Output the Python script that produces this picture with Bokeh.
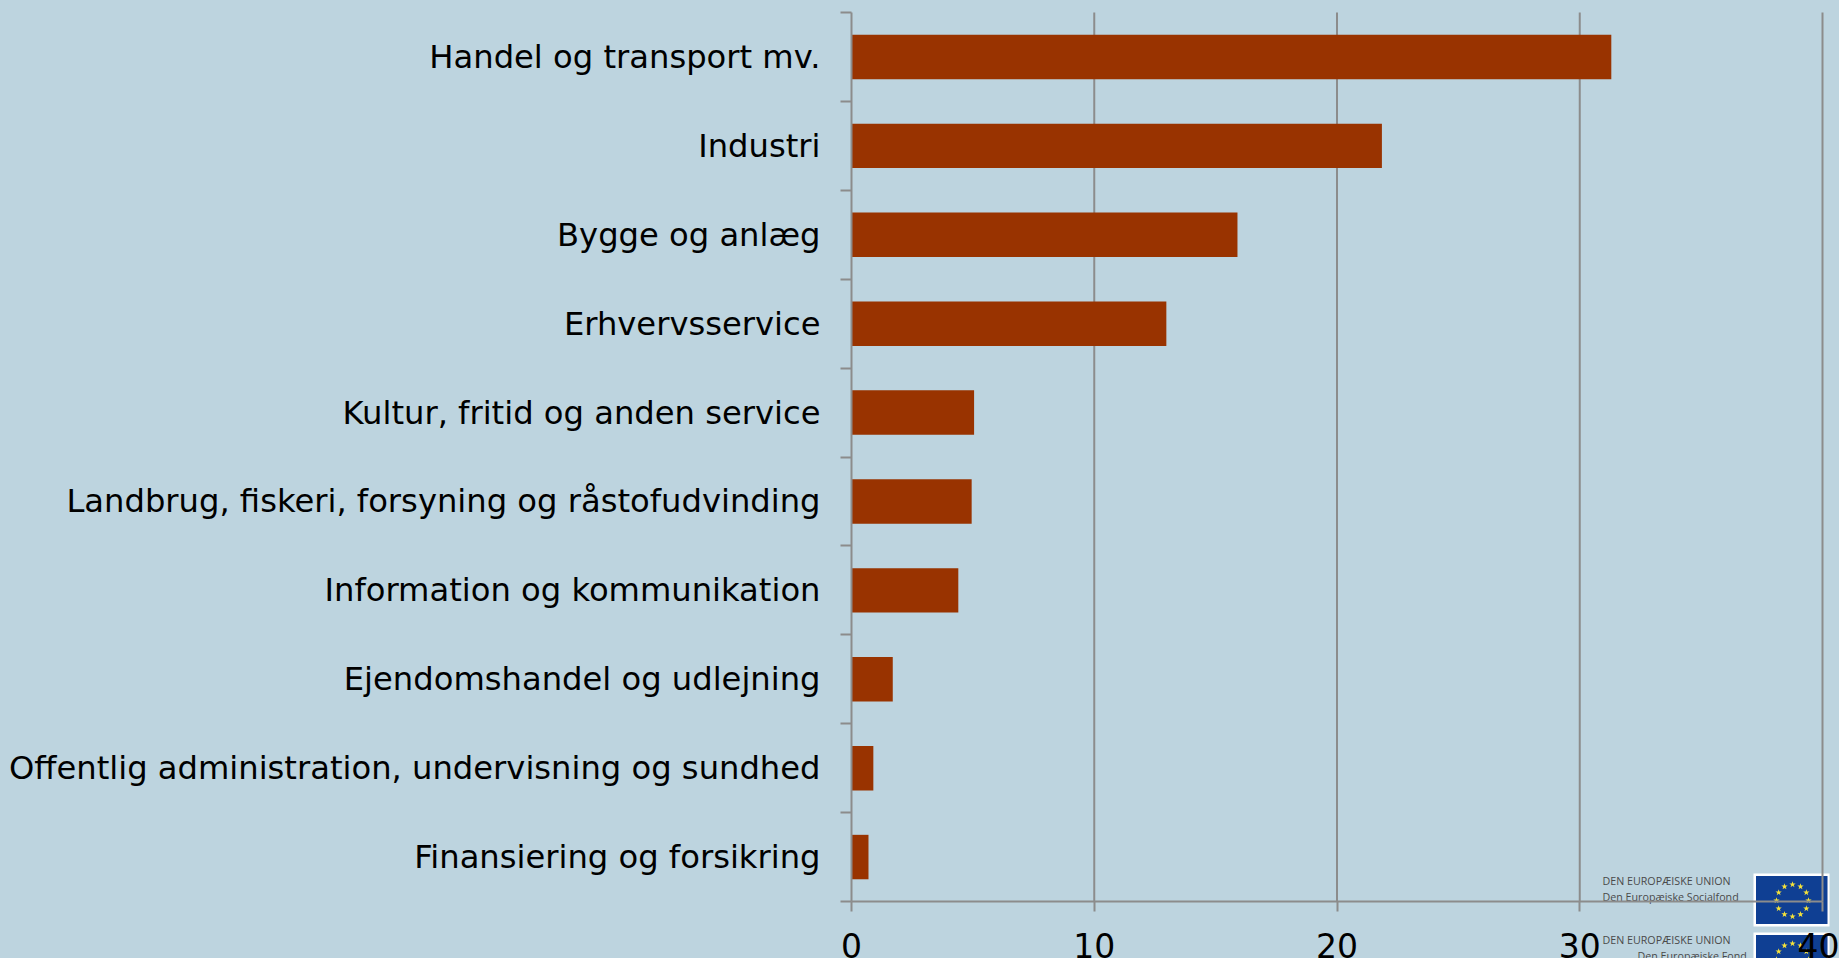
import math
from bokeh.plotting import figure
from bokeh.embed import file_html
from bokeh.resources import INLINE
from bokeh.models import FixedTicker, Label, BoxAnnotation, PolyAnnotation

categories = ["Handel og transport mv.", "Industri", "Bygge og anlæg", "Erhvervsservice",
              "Kultur, fritid og anden service", "Landbrug, fiskeri, forsyning og råstofudvinding",
              "Information og kommunikation", "Ejendomshandel og udlejning",
              "Offentlig administration, undervisning og sundhed", "Finansiering og forsikring"]
values = [31.3, 21.85, 15.9, 12.97, 5.05, 4.95, 4.4, 1.7, 0.9, 0.7]
x_ticks = [0, 10, 20, 30, 40]

BG = "#bdd4df"
GRAY = "#8c8c8c"
W, H = 1839, 958
L, T, FW, FH = 851, 12, 971, 889   # chart area, inside a frame that fills the page
n = len(categories)
ypos = [n - i - 0.5 for i in range(n)]
x_per_px = x_ticks[-1] / FW
y_per_px = n / FH

p = figure(width=W, height=H, frame_width=W, frame_height=H,
           output_backend="svg", toolbar_location=None,
           x_range=(-L * x_per_px, (W - L) * x_per_px),
           y_range=(-(H - T - FH) * y_per_px, n + T * y_per_px),
           background_fill_color=BG, border_fill_color=BG,
           min_border_left=0, min_border_right=0, min_border_top=0, min_border_bottom=0,
           outline_line_color=None, styles={"background-color": BG})

p.xgrid.visible = False
p.ygrid.visible = False

logo = []


def flag(left, top, bottom):
    logo.append(BoxAnnotation(left=left, right=left + 76, top=top, bottom=bottom,
                              left_units="canvas", right_units="canvas", top_units="canvas", bottom_units="canvas",
                              fill_color="#ffffff", fill_alpha=1, line_color=None, level="underlay"))
    logo.append(BoxAnnotation(left=left + 2.5, right=left + 74, top=top + 2.5, bottom=bottom - 2.5,
                              left_units="canvas", right_units="canvas", top_units="canvas", bottom_units="canvas",
                              fill_color="#0f3f93", fill_alpha=1, line_color=None, level="underlay"))
    cx, cy = left + 39, top + 27
    for i in range(12):
        a = math.radians(i * 30)
        sxc, syc = cx + 16 * math.sin(a), cy - 16 * math.cos(a)
        xs, ys = [], []
        for k in range(10):
            r = 3.3 if k % 2 == 0 else 1.3
            b = math.radians(k * 36)
            xs.append(sxc + r * math.sin(b))
            ys.append(syc - r * math.cos(b))
        logo.append(PolyAnnotation(xs=xs, ys=ys, xs_units="canvas", ys_units="canvas",
                                   fill_color="#f5e23a", fill_alpha=1, line_color=None, level="underlay"))


flag(1753, 873, 926)
flag(1753, 932, 985)


def small(text, px, py):
    logo.append(Label(x=px, y=py, x_units="canvas", y_units="canvas", text=text,
                      text_font="Open Sans", text_font_size="10.7px", text_color="#4a4a4a",
                      text_baseline="middle", level="underlay"))


small("DEN EUROPÆISKE UNION", 1602, 880)
small("Den Europæiske Socialfond", 1602, 896)
small("DEN EUROPÆISKE UNION", 1602, 939)
small("Den Europæiske Fond", 1637, 955)
p.renderers.extend(logo)

p.segment(x0=x_ticks[1:], x1=x_ticks[1:], y0=[0] * 4, y1=[n] * 4, line_color=GRAY, line_width=2, level="underlay")
p.hbar(y=ypos, right=values, left=0, height=0.5, fill_color="#993300", line_color=None, level="glyph")

xa = p.xaxis[0]
xa.fixed_location = 0
xa.bounds = (0, x_ticks[-1])
xa.ticker = FixedTicker(ticks=x_ticks)
xa.axis_line_color = GRAY
xa.axis_line_width = 2
xa.major_tick_line_color = GRAY
xa.major_tick_line_width = 2
xa.major_tick_out = 10
xa.major_tick_in = 0
xa.minor_tick_line_color = None
xa.major_label_text_font = "DejaVu Sans"
xa.major_label_text_font_size = "33px"
xa.major_label_text_color = "#000000"
xa.major_label_standoff = 21

ya = p.yaxis[0]
ya.fixed_location = 0
ya.bounds = (0, n)
ya.ticker = FixedTicker(ticks=ypos, minor_ticks=list(range(n + 1)))
ya.major_label_overrides = {y: c for y, c in zip(ypos, categories)}
ya.axis_line_color = GRAY
ya.axis_line_width = 2
ya.major_tick_line_color = None
ya.major_tick_out = 0
ya.major_tick_in = 0
ya.minor_tick_line_color = GRAY
ya.minor_tick_line_width = 2
ya.minor_tick_out = 11
ya.minor_tick_in = 0
ya.major_label_text_font = "DejaVu Sans"
ya.major_label_text_font_size = "32.2px"
ya.major_label_text_color = "#000000"
ya.major_label_standoff = 20

open("out.html", "w").write(file_html(p, INLINE))
